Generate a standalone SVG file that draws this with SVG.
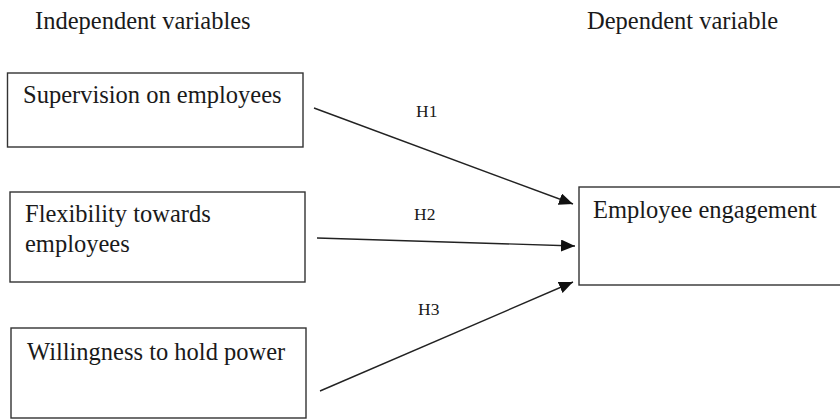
<svg xmlns="http://www.w3.org/2000/svg" width="840" height="419" viewBox="0 0 840 419">
<style>
.box{fill:#fff;stroke:#333;stroke-width:1.4}
.t{font-family:"Liberation Serif","Times New Roman",serif;font-size:24.5px;fill:#1a1a1a}
.h{font-family:"Liberation Serif","Times New Roman",serif;font-size:17.5px;fill:#1a1a1a}
.c{stroke:#222;stroke-width:1.4;fill:none;marker-end:url(#ah)}
</style>
<defs>
<marker id="ah" markerUnits="userSpaceOnUse" markerWidth="14" markerHeight="12" viewBox="0 0 14 12" refX="14" refY="6" orient="auto">
<path d="M0,0 L14,6 L0,12 Z" fill="#111"/>
</marker>
</defs>
<rect width="840" height="419" fill="#fff"/>
<text class="t" x="35" y="29">Independent variables</text>
<text class="t" x="587" y="29">Dependent variable</text>
<g id="n1"><rect class="box" x="7.5" y="73" width="295.5" height="74"/><text class="t" x="23" y="103">Supervision on employees</text></g>
<g id="n2"><rect class="box" x="10" y="192" width="295" height="90"/><text class="t" x="25" y="222">Flexibility towards</text><text class="t" x="25" y="252">employees</text></g>
<g id="n3"><rect class="box" x="11" y="328" width="295" height="90"/><text class="t" x="27" y="360">Willingness to hold power</text></g>
<g id="n4"><rect class="box" x="579" y="187" width="270" height="98"/><text class="t" x="593" y="218">Employee engagement</text></g>
<g id="connectors">
<line class="c" x1="314" y1="108" x2="573" y2="204"/>
<line class="c" x1="317" y1="238" x2="575" y2="246"/>
<line class="c" x1="320" y1="391" x2="573" y2="282"/>
<text class="h" x="416" y="117">H1</text>
<text class="h" x="414" y="220">H2</text>
<text class="h" x="418" y="315">H3</text>
</g>
</svg>
